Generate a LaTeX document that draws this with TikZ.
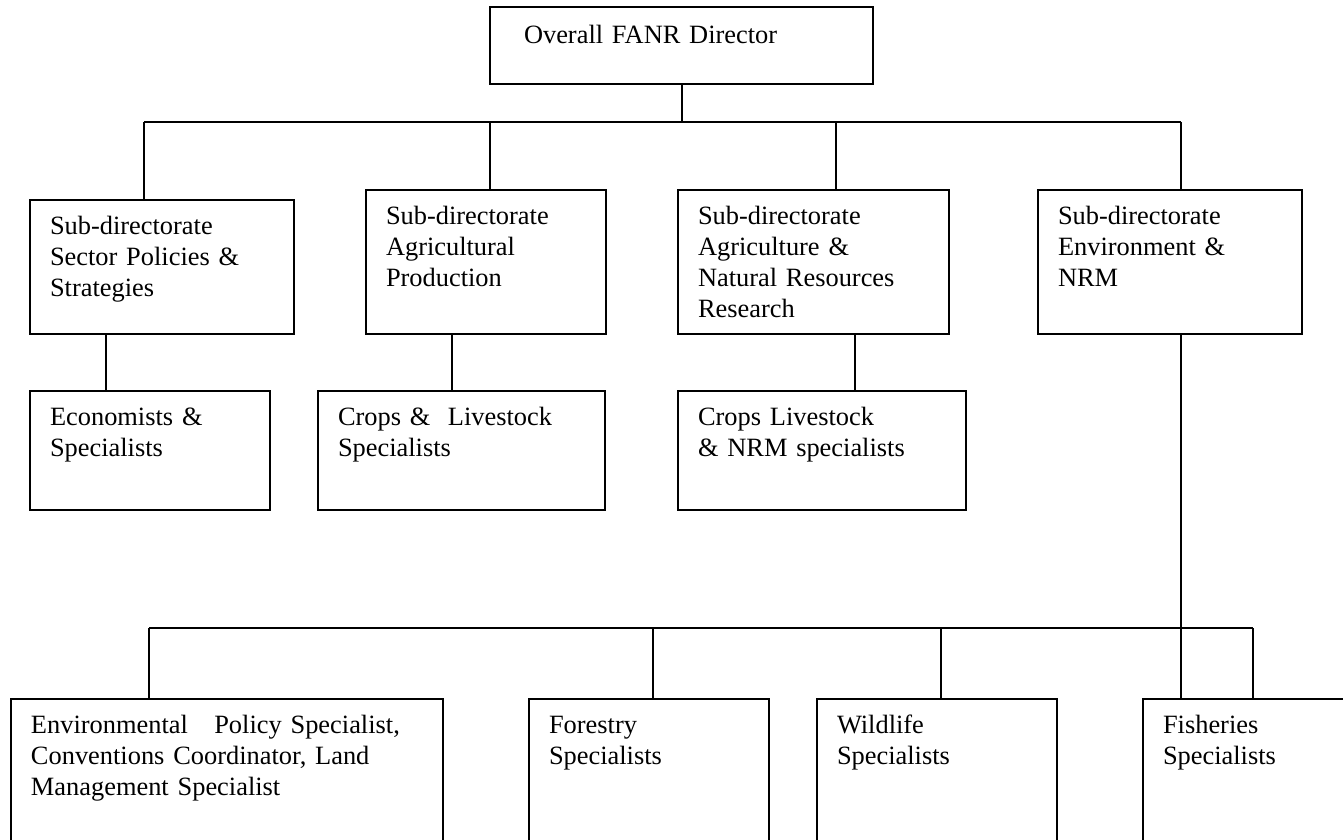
\documentclass[tikz,border=0pt]{standalone}
\usepackage{fontspec}
\setmainfont{Liberation Serif}
\usepackage{tikz}

\begin{document}
\begin{tikzpicture}[
  x=0.5pt, y=-0.5pt,
  line width=1pt,
  org box/.style 2 args={
    draw, anchor=north west, align=left,
    inner xsep=10pt, inner ysep=0pt,
    text width={(#1-40)*0.5pt},
    text height=17pt, text depth={(#2-34)*0.5pt},
    font=\fontsize{13.2pt}{15.5pt}\selectfont
  },
]
  \useasboundingbox (0,0) rectangle (1343,840);
  \clip (0,0) rectangle (1343,840);

  % Director and the four sub-directorates
  \node[org box={383}{77}, inner xsep=17pt, text width=157.5pt,
        text height=18.5pt, text depth=20pt] (dir) at (489,6)
    {Overall FANR Director};
  \node[org box={264}{134}] (policy) at (29,199)
    {Sub-directorate\\Sector Policies \&\\Strategies};
  \node[org box={240}{144}] (agprod) at (365,189)
    {Sub-directorate\\Agricultural\\Production};
  \node[org box={271}{144}] (research) at (677,189)
    {Sub-directorate\\Agriculture \&\\Natural Resources\\Research};
  \node[org box={264}{144}] (envnrm) at (1037,189)
    {Sub-directorate\\Environment \&\\NRM};

  % Specialists under the first three
  \node[org box={240}{119}] (econ) at (29,390)
    {Economists \&\\Specialists};
  \node[org box={287}{119}] (crops) at (317,390)
    {Crops \& \ Livestock\\Specialists};
  \node[org box={288}{119}] (cropsnrm) at (677,390)
    {Crops Livestock\\\& NRM specialists};

  % Specialists under Environment & NRM
  \node[org box={432}{170}] (envpol) at (10,698)
    {Environmental\ \ \ Policy Specialist,\\Conventions Coordinator, Land\\Management Specialist};
  \node[org box={240}{170}] (forest) at (528,698)
    {Forestry\\Specialists};
  \node[org box={240}{170}] (wild) at (816,698)
    {Wildlife\\Specialists};
  \node[org box={220}{170}] (fish) at (1142,698)
    {Fisheries\\Specialists};

  % Upper bus, names: policy-top, agprod-top, ...
  \coordinate (bus) at (682,122);
  \draw (dir.south) -- (dir.south |- bus);
  \foreach \b/\dx in {policy/115, agprod/125, research/159, envnrm/144} {
    \path (\b.north west) ++(\dx,0) coordinate (\b-top);
    \draw (\b-top |- bus) -- (\b-top);
  }
  \draw (policy-top |- bus) -- (envnrm-top |- bus);

  % Links down to the specialist boxes
  \foreach \up/\down/\dx in {policy/econ/77, agprod/crops/87,
                              research/cropsnrm/178, envnrm/fish/144} {
    \path (\up.south west) ++(\dx,0) coordinate (\up-bot);
    \draw (\up-bot) -- (\up-bot |- \down.north);
  }

  % Lower bus
  \coordinate (envbus) at (682,628);
  \foreach \b/\dx in {envpol/139, forest/125, wild/125, fish/111} {
    \path (\b.north west) ++(\dx,0) coordinate (\b-top);
    \draw (\b-top |- envbus) -- (\b-top);
  }
  \draw (envpol-top |- envbus) -- (fish-top |- envbus);
\end{tikzpicture}
\end{document}
